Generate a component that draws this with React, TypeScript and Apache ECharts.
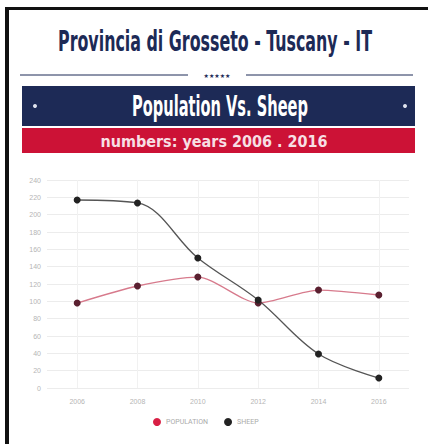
import React, { useEffect, useRef } from "react";
import * as echarts from "echarts";

const years = ["2006", "2008", "2010", "2012", "2014", "2016"];
const population = [98, 117.7, 128, 98, 113, 107.3];
const sheep = [216.9, 213.5, 150, 101.5, 39.2, 11.5];
const yTicks = { min: 0, max: 240, interval: 20 };

const NAVY = "#1d2a56";
const RED = "#cc1236";
const COND = "'DejaVu Sans Condensed', 'DejaVu Sans', sans-serif";

export default function App() {
  const ref = useRef<HTMLDivElement>(null);
  useEffect(() => {
    document.body.style.margin = "0";
    const chart = echarts.init(ref.current!, null, { renderer: "svg" });
    chart.setOption({
      animation: false,
      backgroundColor: "#ffffff",
      graphic: [
        { type: "rect", shape: { x: 5, y: 7, width: 423, height: 3 }, style: { fill: "#111" } },
        { type: "rect", shape: { x: 5, y: 7, width: 4, height: 437 }, style: { fill: "#111" } },
        {
          type: "text", x: 215, y: 41, scaleX: 0.63,
          style: { text: "Provincia di Grosseto - Tuscany - IT", fill: NAVY, font: `bold 28px ${COND}`, align: "center", verticalAlign: "middle" },
        },
        { type: "line", shape: { x1: 20, y1: 75, x2: 188, y2: 75 }, style: { stroke: NAVY, lineWidth: 1 } },
        { type: "line", shape: { x1: 246, y1: 75, x2: 413, y2: 75 }, style: { stroke: NAVY, lineWidth: 1 } },
        {
          type: "text", x: 217, y: 75,
          style: { text: "★★★★★", fill: NAVY, font: "6px 'DejaVu Sans'", align: "center", verticalAlign: "middle" },
        },
        { type: "rect", shape: { x: 22, y: 86, width: 393, height: 40 }, style: { fill: NAVY } },
        {
          type: "text", x: 220, y: 106, scaleX: 0.56,
          style: { text: "Population Vs. Sheep", fill: "#ffffff", font: `bold 29px ${COND}`, align: "center", verticalAlign: "middle" },
        },
        { type: "circle", shape: { cx: 35, cy: 106, r: 2 }, style: { fill: "#dfe3ee" } },
        { type: "circle", shape: { cx: 405, cy: 106, r: 2 }, style: { fill: "#dfe3ee" } },
        { type: "rect", shape: { x: 22, y: 128, width: 393, height: 25 }, style: { fill: RED } },
        {
          type: "text", x: 214, y: 141,
          style: { text: "numbers: years 2006 . 2016", fill: "#f7dfe4", font: `bold 16px ${COND}`, align: "center", verticalAlign: "middle" },
        },
      ],
      grid: { left: 47, right: 19, top: 180, bottom: 56 },
      legend: {
        bottom: 13,
        left: 148,
        itemWidth: 8,
        itemHeight: 8,
        itemGap: 16,
        icon: "circle",
        textStyle: { fontSize: 7, color: "#aaaaaa", fontFamily: "Roboto" },
        data: [
          { name: "POPULATION", itemStyle: { color: "#d81f44" } },
          { name: "SHEEP", itemStyle: { color: "#222222" } },
        ],
      },
      xAxis: {
        type: "category",
        data: years,
        boundaryGap: true,
        axisLine: { show: false },
        axisTick: { show: true, alignWithLabel: true, inside: true, length: 208, lineStyle: { color: "#f1f1f1" } },
        axisLabel: { fontSize: 7, color: "#b5b5b5", margin: 10 },
        splitLine: { show: false },
      },
      yAxis: {
        type: "value",
        min: yTicks.min,
        max: yTicks.max,
        interval: yTicks.interval,
        axisLabel: { fontSize: 7, color: "#b5b5b5", margin: 6 },
        axisLine: { show: false },
        axisTick: { show: false },
        splitLine: { lineStyle: { color: "#ececec" } },
      },
      series: [
        {
          name: "POPULATION",
          type: "line",
          data: population,
          smooth: 0.25,
          symbol: "circle",
          symbolSize: 7,
          itemStyle: { color: "#5a2030" },
          lineStyle: { color: "#d77a8c", width: 1.3 },
        },
        {
          name: "SHEEP",
          type: "line",
          data: sheep,
          smooth: 0.35,
          symbol: "circle",
          symbolSize: 7,
          itemStyle: { color: "#222222" },
          lineStyle: { color: "#555555", width: 1.3 },
        },
      ],
    });
    return () => chart.dispose();
  }, []);
  return <div ref={ref} style={{ width: 428, height: 444 }} />;
}
